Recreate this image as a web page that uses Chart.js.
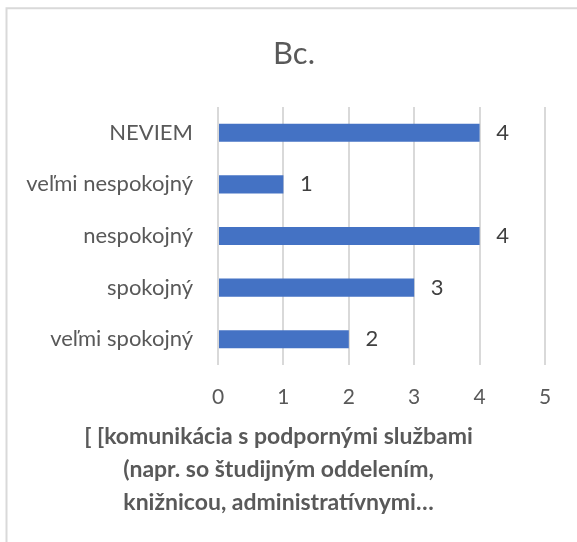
<!DOCTYPE html>
<html>
<head>
<meta charset="utf-8">
<script src="https://cdn.jsdelivr.net/npm/chart.js@4.4.1/dist/chart.umd.min.js"></script>
<style>
  html, body { margin: 0; padding: 0; background: #ffffff; }
  canvas { display: block; }
</style>
</head>
<body>
<canvas id="c" width="577" height="542"></canvas>
<script>
const categories = ['NEVIEM', 'veľmi nespokojný', 'nespokojný', 'spokojný', 'veľmi spokojný'];
const values = [4, 1, 4, 3, 2];
const xMin = 0;
const xMax = 5;
const xStep = 1;
const chartTitle = 'Bc.';
const axisTitleLines = [
  '[ [komunikácia s podpornými službami',
  '(napr. so študijným oddelením,',
  'knižnicou, administratívnymi…'
];

const FONT = 'Lato, "Open Sans", sans-serif';
const TEXT = '#595959';

const frame = {
  id: 'frame',
  beforeDraw(chart) {
    const ctx = chart.ctx;
    ctx.save();
    ctx.fillStyle = '#ffffff';
    ctx.fillRect(0, 0, chart.width, chart.height);
    ctx.strokeStyle = '#d9d9d9';
    ctx.lineWidth = 2;
    ctx.beginPath();
    ctx.moveTo(6.5, chart.height);
    ctx.lineTo(6.5, 8.3);
    ctx.lineTo(chart.width, 8.3);
    ctx.stroke();
    ctx.restore();
  }
};

const valueLabels = {
  id: 'valueLabels',
  afterDatasetsDraw(chart) {
    const ctx = chart.ctx;
    const meta = chart.getDatasetMeta(0);
    ctx.save();
    ctx.font = '22px ' + FONT;
    ctx.fillStyle = '#404040';
    ctx.textAlign = 'center';
    ctx.textBaseline = 'middle';
    meta.data.forEach((el, i) => {
      ctx.fillText(String(chart.data.datasets[0].data[i]), el.x + 23, el.y);
    });
    ctx.restore();
  }
};

const titles = {
  id: 'titles',
  afterDraw(chart) {
    const ctx = chart.ctx;
    const area = chart.chartArea;
    ctx.save();
    ctx.fillStyle = TEXT;
    ctx.textAlign = 'center';
    ctx.textBaseline = 'middle';
    ctx.font = '31px ' + FONT;
    ctx.fillText(chartTitle, chart.width / 2 + 5.5, area.top - 53.5);
    ctx.font = 'bold 23px ' + FONT;
    const cx = chart.width / 2 - 10;
    axisTitleLines.forEach((line, i) => {
      ctx.fillText(line, cx, area.bottom + 72 + i * 33);
    });
    ctx.restore();
  }
};

new Chart(document.getElementById('c'), {
  type: 'bar',
  data: {
    labels: categories,
    datasets: [{
      data: values,
      backgroundColor: '#4472C4',
      borderWidth: 0,
      barPercentage: 0.35,
      categoryPercentage: 1
    }]
  },
  options: {
    indexAxis: 'y',
    responsive: false,
    animation: false,
    devicePixelRatio: 1,
    layout: { padding: { left: 0, right: 32, top: 107, bottom: 0 } },
    plugins: {
      legend: { display: false },
      tooltip: { enabled: false },
      title: { display: false }
    },
    scales: {
      x: {
        min: xMin,
        max: xMax,
        ticks: {
          stepSize: xStep,
          color: TEXT,
          font: { family: FONT, size: 21 },
          padding: 20
        },
        grid: { color: '#d9d9d9', lineWidth: 2, drawTicks: false },
        border: { display: false },
        afterFit(s) { s.height = 177; }
      },
      y: {
        ticks: {
          color: TEXT,
          font: { family: FONT, size: 22 },
          padding: 25
        },
        grid: { display: false, drawTicks: false },
        border: { display: false },
        afterFit(s) { s.width = 218; }
      }
    }
  },
  plugins: [frame, valueLabels, titles]
});
</script>
</body>
</html>
